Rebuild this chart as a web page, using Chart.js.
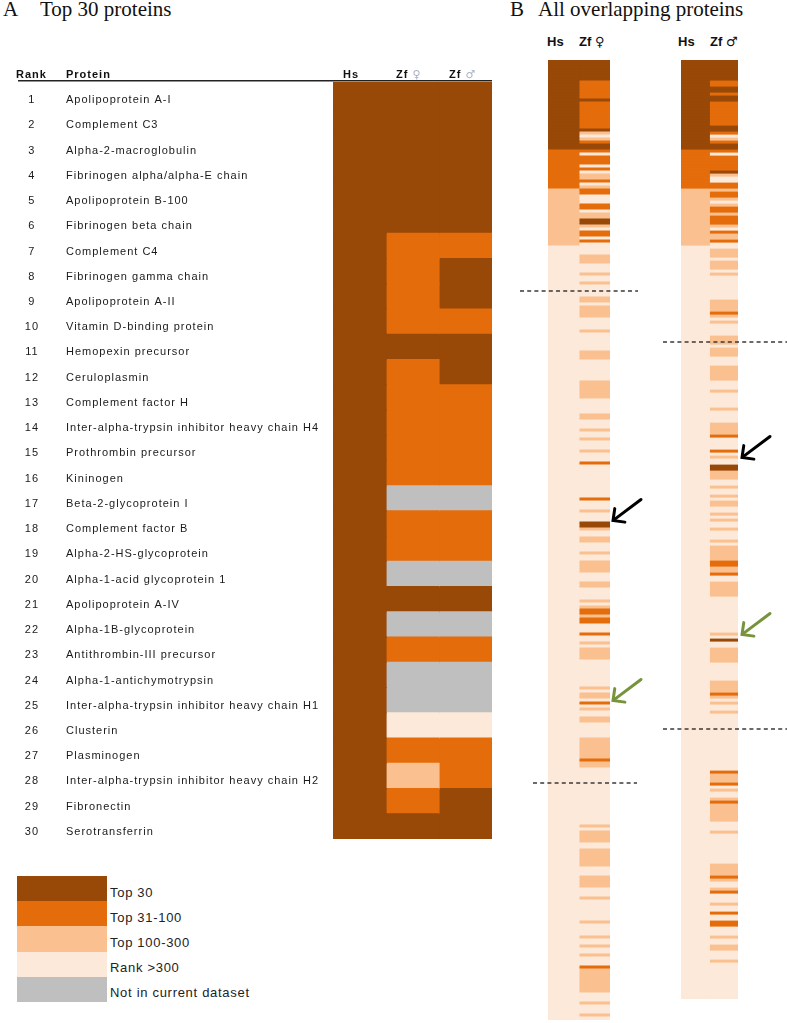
<!DOCTYPE html>
<html><head><meta charset="utf-8">
<script src="https://cdn.jsdelivr.net/npm/chart.js@4.4.1/dist/chart.umd.min.js"></script>
<style>
body{margin:0;background:#fff;width:787px;height:1023px;position:relative;overflow:hidden;font-family:'Liberation Sans',Arial,sans-serif;}
canvas{position:absolute;}
.t{position:absolute;white-space:nowrap;line-height:1.15;}
.title{font-family:'Liberation Serif','Times New Roman',serif;font-size:21px;color:#111;}
.colh{font-weight:bold;font-size:13px;color:#111;}
.leg{position:absolute;left:17px;width:90px;}
.legl{position:absolute;left:110px;font-size:13px;letter-spacing:0.7px;color:#222;line-height:15px;white-space:nowrap;}
</style></head><body>
<div class="t title" style="left:3px;top:-3px">A</div>
<div class="t title" style="left:40px;top:-3px">Top 30 proteins</div>
<div class="t title" style="left:510px;top:-3px">B</div>
<div class="t title" style="left:538px;top:-3px">All overlapping proteins</div>
<div class="t colh" style="left:547px;top:35px">Hs</div>
<div class="t colh" style="left:579px;top:35px">Zf <span style="font-family:'DejaVu Sans';font-weight:normal">♀</span></div>
<div class="t colh" style="left:678px;top:35px">Hs</div>
<div class="t colh" style="left:710px;top:35px">Zf <span style="font-family:'DejaVu Sans';font-weight:normal">♂</span></div>
<canvas id="cA" width="500" height="790" style="left:0;top:60px"></canvas>
<canvas id="cBf" width="145" height="968" style="left:505px;top:55px"></canvas>
<canvas id="cBm" width="132" height="968" style="left:655px;top:55px"></canvas>
<div id="legend"></div>
<script>
// ---------- palette / legend ----------
const tierColors = {1:'#984807', 2:'#E46C0A', 3:'#FAC090', 4:'#FDE9D9', 0:'#BFBFBF'};
const legendTiers = [1, 2, 3, 4, 0];
const legendLabels = ['Top 30', 'Top 31-100', 'Top 100-300', 'Rank >300', 'Not in current dataset'];

// ---------- Panel A: top 30 proteins ----------
const rankLabels = ['1','2','3','4','5','6','7','8','9','10','11','12','13','14','15',
  '16','17','18','19','20','21','22','23','24','25','26','27','28','29','30'];
const proteinNames = [
  'Apolipoprotein A-I','Complement C3','Alpha-2-macroglobulin','Fibrinogen alpha/alpha-E chain',
  'Apolipoprotein B-100','Fibrinogen beta chain','Complement C4','Fibrinogen gamma chain',
  'Apolipoprotein A-II','Vitamin D-binding protein','Hemopexin precursor','Ceruloplasmin',
  'Complement factor H','Inter-alpha-trypsin inhibitor heavy chain H4','Prothrombin precursor',
  'Kininogen','Beta-2-glycoprotein I','Complement factor B','Alpha-2-HS-glycoprotein',
  'Alpha-1-acid glycoprotein 1','Apolipoprotein A-IV','Alpha-1B-glycoprotein',
  'Antithrombin-III precursor','Alpha-1-antichymotrypsin','Inter-alpha-trypsin inhibitor heavy chain H1',
  'Clusterin','Plasminogen','Inter-alpha-trypsin inhibitor heavy chain H2','Fibronectin','Serotransferrin'];
const columnNames = ['Hs', 'Zf', 'Zf'];
const columnSymbols = ['', '♀', '♂'];
// tier codes: 1 top30, 2 top31-100, 3 top100-300, 4 rank>300, 0 not in dataset
const hsTop30       = [1,1,1,1,1,1,1,1,1,1,1,1,1,1,1,1,1,1,1,1,1,1,1,1,1,1,1,1,1,1];
const zfFemaleTop30 = [1,1,1,1,1,1,2,2,2,2,1,2,2,2,2,2,0,2,2,0,1,0,2,0,0,4,2,3,2,1];
const zfMaleTop30   = [1,1,1,1,1,1,2,1,1,2,1,1,2,2,2,2,0,2,2,0,1,0,2,0,0,4,2,2,1,1];

// ---------- Panel B: all overlapping proteins (runs of [tier, count], in Hs rank order) ----------
const hsFemaleRuns = [[1,30],[2,13],[3,19],[4,258]];
const zfFemaleRuns = [
  [1,7],[2,6],[1,1],[2,9],[1,1],[3,1],[4,1],[3,1],[2,1],[1,2],[2,1],[4,1],[2,3],[4,1],[2,1],[4,1],
  [3,2],[2,1],[4,1],[3,1],[2,2],[4,3],[2,2],[4,1],[3,2],[1,2],[3,1],[4,1],[2,2],[4,1],[2,1],[4,4],
  [3,3],[4,3],[3,1],[4,2],[3,1],[4,4],[3,2],[4,1],[3,4],[4,4],[3,1],[4,6],[3,3],[4,7],[3,6],[4,5],
  [3,2],[4,3],[3,1],[4,2],[3,1],[4,3],[3,1],[4,3],[2,1],[4,11],[2,1],[4,3],[3,1],[4,3],[1,2],[3,1],
  [4,2],[3,2],[4,3],[3,1],[4,2],[3,4],[4,3],[3,2],[4,4],[3,1],[4,1],[3,1],[2,2],[3,1],[2,2],[4,3],
  [2,1],[4,2],[3,1],[4,1],[3,4],[4,9],[3,1],[4,1],[3,2],[4,1],[2,1],[4,1],[3,1],[4,2],[3,2],[4,5],
  [3,7],[2,1],[3,2],[4,19],[3,1],[4,1],[3,4],[4,2],[3,6],[4,3],[3,4],[4,3],[3,1],[4,7],[3,1],[4,4],
  [3,1],[4,2],[3,1],[4,2],[3,1],[4,3],[2,1],[3,8],[4,3],[3,1],[4,3],[3,1],[4,1]];
const hsMaleRuns = [[1,30],[2,13],[3,19],[4,251]];
const zfMaleRuns = [
  [1,7],[2,2],[1,2],[2,1],[1,2],[2,8],[1,2],[2,1],[4,1],[3,1],[2,1],[1,2],[2,1],[4,1],[2,5],[1,1],
  [3,1],[4,2],[2,2],[3,1],[2,2],[3,1],[4,1],[3,1],[2,2],[3,1],[2,3],[3,1],[4,1],[2,1],[3,2],[2,1],
  [4,2],[3,3],[4,1],[3,3],[4,1],[3,1],[4,8],[3,4],[2,1],[3,1],[4,1],[3,1],[4,4],[3,3],[4,1],[3,3],
  [4,3],[3,5],[4,3],[3,1],[4,5],[3,1],[4,4],[3,4],[2,1],[4,4],[2,1],[4,1],[3,1],[4,2],[1,2],[3,3],
  [4,2],[3,1],[4,2],[3,1],[4,1],[3,2],[4,2],[3,1],[4,1],[3,1],[4,2],[3,1],[4,3],[3,1],[4,1],[3,5],
  [2,2],[3,2],[2,1],[4,2],[3,5],[4,12],[3,1],[4,1],[1,1],[4,2],[3,5],[4,6],[3,4],[2,1],[3,1],[4,1],
  [3,1],[4,2],[3,1],[4,19],[2,1],[3,3],[2,1],[4,1],[3,1],[4,2],[3,1],[2,1],[3,6],[4,3],[3,1],[4,10],
  [3,4],[2,1],[3,1],[4,2],[3,1],[2,1],[4,3],[3,1],[4,2],[2,1],[4,2],[2,2],[4,3],[3,1],[4,2],[3,2],
  [4,3],[3,1],[4,12]];
// cut-off positions (row index where dashed line is drawn) and highlighted proteins (arrows)
const femaleCutoffs = [77, 241];
const maleCutoffs = [94, 223];
const femaleArrowRows = [153, 213];
const maleArrowRows = [132, 191];
const arrowColors = ['#000000', '#77933C'];

function expand(runs) {
  const out = [];
  runs.forEach(([tier, n]) => { for (let i = 0; i < n; i++) out.push(tier); });
  return out;
}

const FONT = '"Liberation Sans", Arial, sans-serif';

// ---------- Panel A chart ----------
const tableHeader = {
  id: 'tableHeader',
  beforeDraw(chart) { chart.ctx.letterSpacing = '1px'; },
  afterDraw(chart) {
    const {ctx, chartArea: a, scales: {x}} = chart;
    ctx.save();
    ctx.letterSpacing = '1px';
    ctx.textBaseline = 'alphabetic';
    ctx.textAlign = 'left';
    const base = a.top - 4;
    ctx.fillStyle = '#111';
    ctx.font = 'bold 11px ' + FONT;
    ctx.fillText('Rank', 16, base);
    ctx.fillText('Protein', 66, base);
    columnNames.forEach((name, i) => {
      const cx = x.getPixelForValue(i) + 10;
      ctx.font = 'bold 11px ' + FONT;
      ctx.fillStyle = '#111';
      ctx.fillText(name, cx, base);
      if (columnSymbols[i]) {
        const w = ctx.measureText(name + ' ').width;
        ctx.font = '11px "DejaVu Sans"';
        ctx.fillStyle = '#aab2c4';
        ctx.fillText(columnSymbols[i], cx + w, base);
      }
    });
    ctx.strokeStyle = '#222';
    ctx.lineWidth = 1.5;
    ctx.beginPath();
    ctx.moveTo(18, a.top - 1.25);
    ctx.lineTo(a.right, a.top - 1.25);
    ctx.stroke();
    ctx.restore();
  }
};

function noScalePadding(s, w) {
  s.width = w;
  s.paddingTop = 0;
  s.paddingBottom = 0;
}

const tableCols = [hsTop30, zfFemaleTop30, zfMaleTop30];
new Chart(document.getElementById('cA'), {
  type: 'bar',
  data: {
    labels: rankLabels,
    datasets: tableCols.map((col, i) => ({
      label: columnNames[i] + columnSymbols[i],
      data: col.map(() => 1),
      backgroundColor: col.map(c => tierColors[c]),
      borderWidth: 0,
      inflateAmount: 0.6,
      barPercentage: 1,
      categoryPercentage: 1,
      yAxisID: 'y'
    }))
  },
  options: {
    indexAxis: 'y',
    responsive: false,
    animation: false,
    devicePixelRatio: 1,
    layout: {padding: {top: 22, bottom: 11, right: 8, left: 0}},
    plugins: {legend: {display: false}, tooltip: {enabled: false}},
    scales: {
      x: {stacked: true, min: 0, max: 3, display: false},
      y: {
        type: 'category', labels: rankLabels, position: 'left', stacked: true, offset: true, weight: 1,
        grid: {display: false, drawTicks: false}, border: {display: false},
        ticks: {autoSkip: false, crossAlign: 'center', padding: 28, labelOffset: 5.5,
                color: '#1a1a1a', font: {family: FONT, size: 11}},
        afterFit(s) { noScalePadding(s, 66); }
      },
      yNames: {
        type: 'category', labels: proteinNames, position: 'left', offset: true, weight: 0,
        grid: {display: false, drawTicks: false}, border: {display: false},
        ticks: {autoSkip: false, crossAlign: 'far', padding: 0, labelOffset: 5.5,
                color: '#1a1a1a', font: {family: FONT, size: 11}},
        afterFit(s) { noScalePadding(s, 267); }
      }
    }
  },
  plugins: [tableHeader]
});

// ---------- Panel B charts ----------
const stripOverlay = {
  id: 'stripOverlay',
  afterDraw(chart, args, opts) {
    const {ctx, chartArea: a, scales: {y}} = chart;
    ctx.save();
    ctx.strokeStyle = '#3a3a3a';
    ctx.lineWidth = 1.6;
    ctx.setLineDash([4, 3.2]);
    opts.cutoffs.forEach((row, i) => {
      const py = (y.getPixelForValue(row - 1) + y.getPixelForValue(row)) / 2;
      const [l, r] = opts.dashExtent[i];
      ctx.beginPath();
      ctx.moveTo(a.left - l, py);
      ctx.lineTo(a.right + r, py);
      ctx.stroke();
    });
    ctx.setLineDash([]);
    opts.arrowRows.forEach((row, i) => {
      const tx = a.right + opts.arrowGap, ty = y.getPixelForValue(row);
      const sx = tx + 28, sy = ty - 21;
      const ang = Math.atan2(sy - ty, sx - tx);
      const hl = 12, spread = 0.78;
      ctx.strokeStyle = arrowColors[i];
      ctx.lineWidth = 3;
      ctx.lineCap = 'round';
      ctx.lineJoin = 'miter';
      ctx.beginPath();
      ctx.moveTo(sx, sy);
      ctx.lineTo(tx + 1.5, ty - 1.1);
      ctx.stroke();
      ctx.beginPath();
      ctx.moveTo(tx + hl * Math.cos(ang + spread), ty + hl * Math.sin(ang + spread));
      ctx.lineTo(tx, ty);
      ctx.lineTo(tx + hl * Math.cos(ang - spread), ty + hl * Math.sin(ang - spread));
      ctx.stroke();
    });
    ctx.restore();
  }
};

function stripChart(id, hsRuns, zfRuns, cutoffs, arrowRows, padding, dashExtent, arrowGap) {
  const hs = expand(hsRuns), zf = expand(zfRuns);
  const labels = hs.map((_, i) => String(i + 1));
  return new Chart(document.getElementById(id), {
    type: 'bar',
    data: {
      labels,
      datasets: [hs, zf].map(col => ({
        data: col.map(() => 1),
        backgroundColor: col.map(c => tierColors[c]),
        borderWidth: 0,
        inflateAmount: 0.4,
        barPercentage: 1,
        categoryPercentage: 1
      }))
    },
    options: {
      indexAxis: 'y',
      responsive: false,
      animation: false,
      devicePixelRatio: 1,
      layout: {padding},
      plugins: {legend: {display: false}, tooltip: {enabled: false},
                stripOverlay: {cutoffs, arrowRows, dashExtent, arrowGap}},
      scales: {
        x: {stacked: true, min: 0, max: 2, display: false},
        y: {stacked: true, offset: true, display: false}
      }
    },
    plugins: [stripOverlay]
  });
}

stripChart('cBf', hsFemaleRuns, zfFemaleRuns, femaleCutoffs, femaleArrowRows,
  {top: 5, bottom: 3, left: 43, right: 40}, [[28, 28], [15, 27]], 3);
stripChart('cBm', hsMaleRuns, zfMaleRuns, maleCutoffs, maleArrowRows,
  {top: 5, bottom: 24, left: 26, right: 49}, [[18, 49], [18, 49]], 4);

// ---------- legend ----------
const legendEl = document.getElementById('legend');
legendTiers.forEach((tier, i) => {
  const top = 876 + i * 25.2;
  const box = document.createElement('div');
  box.className = 'leg';
  box.style.top = top + 'px';
  box.style.height = '25.6px';
  box.style.background = tierColors[tier];
  legendEl.appendChild(box);
  const lab = document.createElement('div');
  lab.className = 'legl';
  lab.style.top = (top + 8.5) + 'px';
  lab.textContent = legendLabels[i];
  legendEl.appendChild(lab);
});
</script>
</body></html>
